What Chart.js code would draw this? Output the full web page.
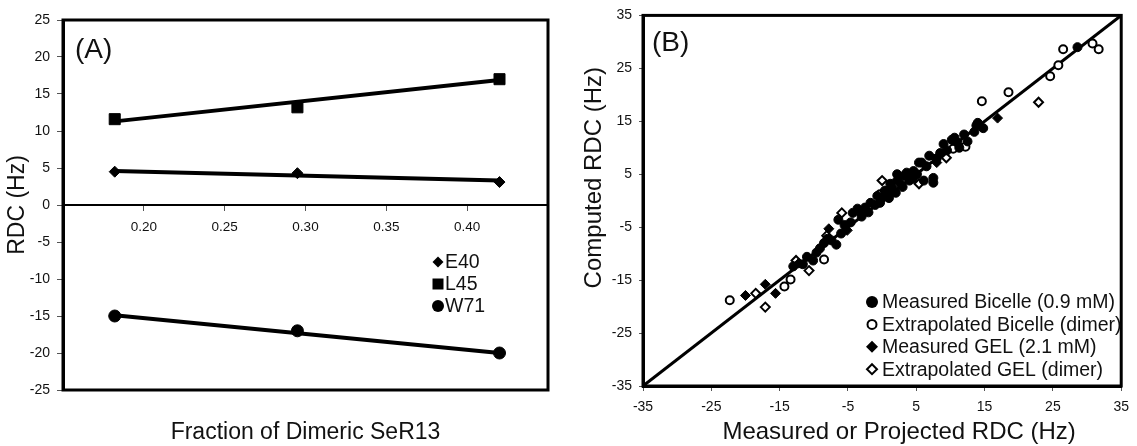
<!DOCTYPE html>
<html>
<head>
<meta charset="utf-8">
<script src="https://cdn.jsdelivr.net/npm/chart.js@4.4.0/dist/chart.umd.min.js"></script>
<style>
  html, body { margin: 0; padding: 0; background: #fff; }
  #wrap { position: relative; width: 1137px; height: 446px; }
  #boxA { position: absolute; left: 0; top: 0; width: 560px; height: 446px; }
  #boxB { position: absolute; left: 560px; top: 0; width: 577px; height: 446px; }
</style>
</head>
<body>
<div id="wrap">
  <div id="boxA"><canvas id="chartA" width="560" height="446"></canvas></div>
  <div id="boxB"><canvas id="chartB" width="577" height="446"></canvas></div>
</div>
<script>
// ---------- panel A data ----------
const fraction = [0.182, 0.295, 0.42];
const e40 = [4.5, 4.3, 3.1];
const l45 = [11.6, 13.2, 17.0];
const w71 = [-15.0, -17.0, -20.0];
// trendline ends
const trendX = [0.182, 0.42];
const e40Trend = [4.6, 3.3];
const l45Trend = [11.3, 16.9];
const w71Trend = [-14.9, -20.0];
const namesA = ['E40', 'L45', 'W71'];

// ---------- panel B data ([measured, computed]) ----------
const measuredBicelle = [
  [-13.0,-12.4],[-11.6,-12.0],[-11.0,-10.6],[-10.1,-11.3],[-9.6,-9.8],[-9.1,-9.0],[-8.5,-8.0],
  [-8.0,-7.2],[-7.4,-7.5],[-6.7,-8.3],[-6.4,-3.6],[-6.0,-6.2],[-5.5,-4.6],[-4.6,-4.1],[-4.3,-2.3],
  [-3.6,-1.5],[-3.0,-3.0],[-2.5,-1.3],[-2.0,-2.2],[-1.7,-0.4],[-1.0,-0.8],[-0.7,0.9],[-0.3,-0.4],
  [0.0,0.5],[0.4,1.9],[0.7,1.9],[1.0,0.5],[1.2,3.2],[1.5,2.4],[2.0,1.5],[2.2,3.8],[2.2,5.0],
  [2.8,3.0],[3.0,2.6],[3.2,4.7],[3.6,5.3],[3.8,4.5],[4.0,3.8],[4.5,4.2],[4.6,5.6],[5.1,5.0],
  [5.4,7.2],[5.8,7.2],[6.1,3.8],[6.5,6.5],[6.9,8.5],[7.5,4.3],[7.5,3.4],[8.0,8.0],[8.5,9.0],
  [9.0,10.7],[9.5,9.5],[10.2,11.5],[10.6,11.9],[11.0,11.0],[11.3,10.0],[12.0,12.5],[12.5,11.2],
  [13.5,13.0],[13.8,14.2],[14.0,14.7],[14.8,13.7],[28.6,29.0]
];
const extrapolatedBicelle = [
  [-22.3,-18.8],[-14.3,-16.2],[-13.4,-14.9],[-8.5,-11.1],[-0.3,1.2],[10.4,9.8],[12.2,10.2],
  [14.6,18.8],[18.5,20.5],[24.6,23.5],[25.8,25.6],[26.5,28.6],[30.8,29.7],[31.7,28.6]
];
const measuredGel = [
  [-20.0,-17.9],[-17.1,-15.8],[-15.6,-17.5],[-12.2,-11.8],[-7.8,-5.3],[-5.1,-5.6],
  [-3.0,-2.6],[1.0,1.2],[8.0,7.2],[16.9,15.6]
];
const extrapolatedGel = [
  [-18.5,-17.5],[-17.1,-20.1],[-12.6,-11.3],[-10.7,-13.2],[-8.1,-6.6],[-5.9,-2.3],
  [0.0,3.8],[5.4,3.2],[9.4,8.1],[22.9,18.6]
];
const diagLine = [-35, 35];
const namesB = ['Measured Bicelle (0.9 mM)', 'Extrapolated Bicelle (dimer)', 'Measured GEL (2.1 mM)', 'Extrapolated GEL (dimer)'];

const FONT = "'Liberation Sans', Arial, sans-serif";
const INK = '#111';

const pts = (xs, ys) => xs.map((x, i) => ({ x: x, y: ys[i] }));
const pairs = arr => arr.map(p => ({ x: p[0], y: p[1] }));

function marker(ctx, style, x, y, r, filled) {
  ctx.beginPath();
  if (style === 'circle') ctx.arc(x, y, r, 0, Math.PI * 2);
  else if (style === 'rect') ctx.rect(x - r, y - r, 2 * r, 2 * r);
  else { ctx.moveTo(x, y - r); ctx.lineTo(x + r, y); ctx.lineTo(x, y + r); ctx.lineTo(x - r, y); ctx.closePath(); }
  if (filled) { ctx.fillStyle = '#000'; ctx.fill(); }
  else { ctx.fillStyle = '#fff'; ctx.fill(); ctx.lineWidth = 2; ctx.strokeStyle = '#000'; ctx.stroke(); }
}

// frame, panel tag and legend drawn on top
function decor(tag, tagX, tagY, legend) {
  return {
    id: 'decor',
    afterDraw(chart) {
      const { ctx, chartArea: a } = chart;
      ctx.save();
      ctx.lineWidth = 3;
      ctx.strokeStyle = '#000';
      ctx.strokeRect(a.left, a.top, a.right - a.left, a.bottom - a.top);
      ctx.fillStyle = INK;
      ctx.font = '28px ' + FONT;
      ctx.textAlign = 'left';
      ctx.textBaseline = 'middle';
      ctx.fillText(tag, tagX, tagY);
      legend.items.forEach((it, i) => {
        const y = legend.y + i * legend.gap;
        marker(ctx, it.style, legend.mx, y, it.r, it.filled);
        ctx.fillStyle = INK;
        ctx.font = legend.size + 'px ' + FONT;
        ctx.textAlign = 'left';
        ctx.textBaseline = 'middle';
        ctx.fillText(it.text, legend.tx, y + 1);
      });
      ctx.restore();
    }
  };
}

// ================= PANEL A =================
const markA = { pointBackgroundColor: '#000', pointBorderColor: '#000', showLine: false };
const trendA = { showLine: true, pointRadius: 0, borderColor: '#000', borderWidth: 4 };

new Chart(document.getElementById('chartA'), {
  type: 'scatter',
  data: {
    datasets: [
      { label: namesA[0], data: pts(fraction, e40), pointStyle: 'rectRot', pointRadius: 5.5, ...markA },
      { label: namesA[1], data: pts(fraction, l45), pointStyle: 'rect', pointRadius: 7.8, ...markA },
      { label: namesA[2], data: pts(fraction, w71), pointStyle: 'circle', pointRadius: 6, ...markA },
      { label: 'e40 fit', data: pts(trendX, e40Trend), ...trendA },
      { label: 'l45 fit', data: pts(trendX, l45Trend), ...trendA },
      { label: 'w71 fit', data: pts(trendX, w71Trend), ...trendA }
    ]
  },
  options: {
    responsive: false,
    animation: false,
    layout: { padding: { top: 20, right: 12, left: 0, bottom: 0 } },
    plugins: { legend: { display: false }, tooltip: { enabled: false } },
    scales: {
      x: {
        type: 'linear', position: { y: 0 }, min: 0.15, max: 0.45,
        ticks: { stepSize: 0.05, padding: 9, autoSkip: false, maxRotation: 0, color: INK,
                 font: { family: FONT, size: 13.5 },
                 callback: v => (v > 0.17 && v < 0.43) ? v.toFixed(2) : '' },
        grid: { drawOnChartArea: false, tickLength: 5, color: '#555' },
        border: { display: true, color: '#000', width: 2 },
        afterFit: s => { s.height = 0; }
      },
      xb: {
        type: 'linear', position: 'bottom', min: 0.15, max: 0.45,
        ticks: { display: false }, grid: { display: false }, border: { display: false },
        title: { display: true, text: 'Fraction of Dimeric SeR13', color: INK,
                 font: { family: FONT, size: 23 }, padding: { top: 0, bottom: 0 } },
        afterFit: s => { s.height = 56; }
      },
      y: {
        min: -25, max: 25,
        ticks: { stepSize: 5, padding: 7, color: INK, font: { family: FONT, size: 14 } },
        grid: { drawOnChartArea: false, tickLength: 6, color: '#555' },
        border: { display: true, color: '#000', width: 3 },
        title: { display: true, text: 'RDC (Hz)', color: INK,
                 font: { family: FONT, size: 23 }, padding: { top: 4, bottom: 0 } },
        afterFit: s => { s.width = 63; }
      }
    }
  },
  plugins: [decor('(A)', 75, 50, {
    mx: 438, tx: 445, y: 262, gap: 22, size: 19.5,
    items: [
      { style: 'diamond', r: 5.5, filled: true, text: namesA[0] },
      { style: 'rect', r: 5.5, filled: true, text: namesA[1] },
      { style: 'circle', r: 6, filled: true, text: namesA[2] }
    ]
  })]
});

// ================= PANEL B =================
const axisTitlesB = {
  id: 'axisTitlesB',
  afterDraw(chart) {
    const { ctx, chartArea: a } = chart;
    ctx.save();
    ctx.fillStyle = INK;
    ctx.font = '24px ' + FONT;
    ctx.textAlign = 'center';
    ctx.textBaseline = 'middle';
    ctx.fillText('Measured or Projected RDC (Hz)', (a.left + a.right) / 2 + 17, 432);
    ctx.translate(34, (a.top + a.bottom) / 2 - 23);
    ctx.rotate(-Math.PI / 2);
    ctx.fillText('Computed RDC (Hz)', 0, 0);
    ctx.restore();
  }
};

new Chart(document.getElementById('chartB'), {
  type: 'scatter',
  data: {
    datasets: [
      { label: namesB[0], data: pairs(measuredBicelle), pointStyle: 'circle', pointRadius: 4.5,
        pointBackgroundColor: '#000', pointBorderColor: '#000', pointBorderWidth: 1 },
      { label: namesB[1], data: pairs(extrapolatedBicelle), pointStyle: 'circle', pointRadius: 4,
        pointBackgroundColor: '#fff', pointBorderColor: '#000', pointBorderWidth: 2 },
      { label: namesB[2], data: pairs(measuredGel), pointStyle: 'rectRot', pointRadius: 5,
        pointBackgroundColor: '#000', pointBorderColor: '#000', pointBorderWidth: 1 },
      { label: namesB[3], data: pairs(extrapolatedGel), pointStyle: 'rectRot', pointRadius: 4.5,
        pointBackgroundColor: '#fff', pointBorderColor: '#000', pointBorderWidth: 2 },
      { label: 'y = x', data: pts(diagLine, diagLine), showLine: true, pointRadius: 0,
        borderColor: '#000', borderWidth: 3 }
    ]
  },
  options: {
    responsive: false,
    animation: false,
    layout: { padding: { top: 14, right: 10, left: 0, bottom: 0 } },
    plugins: { legend: { display: false }, tooltip: { enabled: false } },
    scales: {
      x: {
        min: -35, max: 35,
        ticks: { stepSize: 10, padding: 8, maxRotation: 0, autoSkip: false, color: INK,
                 font: { family: FONT, size: 14 } },
        grid: { drawOnChartArea: false, tickLength: 5, color: '#555' },
        border: { display: true, color: '#000', width: 3 },
        afterFit: s => { s.height = 60; }
      },
      y: {
        min: -35, max: 35,
        ticks: { stepSize: 10, padding: 7, color: INK, font: { family: FONT, size: 14 } },
        grid: { drawOnChartArea: false, tickLength: 4, color: '#555' },
        border: { display: true, color: '#000', width: 3 },
        afterFit: s => { s.width = 83; }
      }
    }
  },
  plugins: [axisTitlesB, decor('(B)', 92, 43, {
    mx: 312, tx: 322, y: 302, gap: 22.4, size: 19.5,
    items: [
      { style: 'circle', r: 6, filled: true, text: namesB[0] },
      { style: 'circle', r: 4.5, filled: false, text: namesB[1] },
      { style: 'diamond', r: 6, filled: true, text: namesB[2] },
      { style: 'diamond', r: 5, filled: false, text: namesB[3] }
    ]
  })]
});
</script>
</body>
</html>
